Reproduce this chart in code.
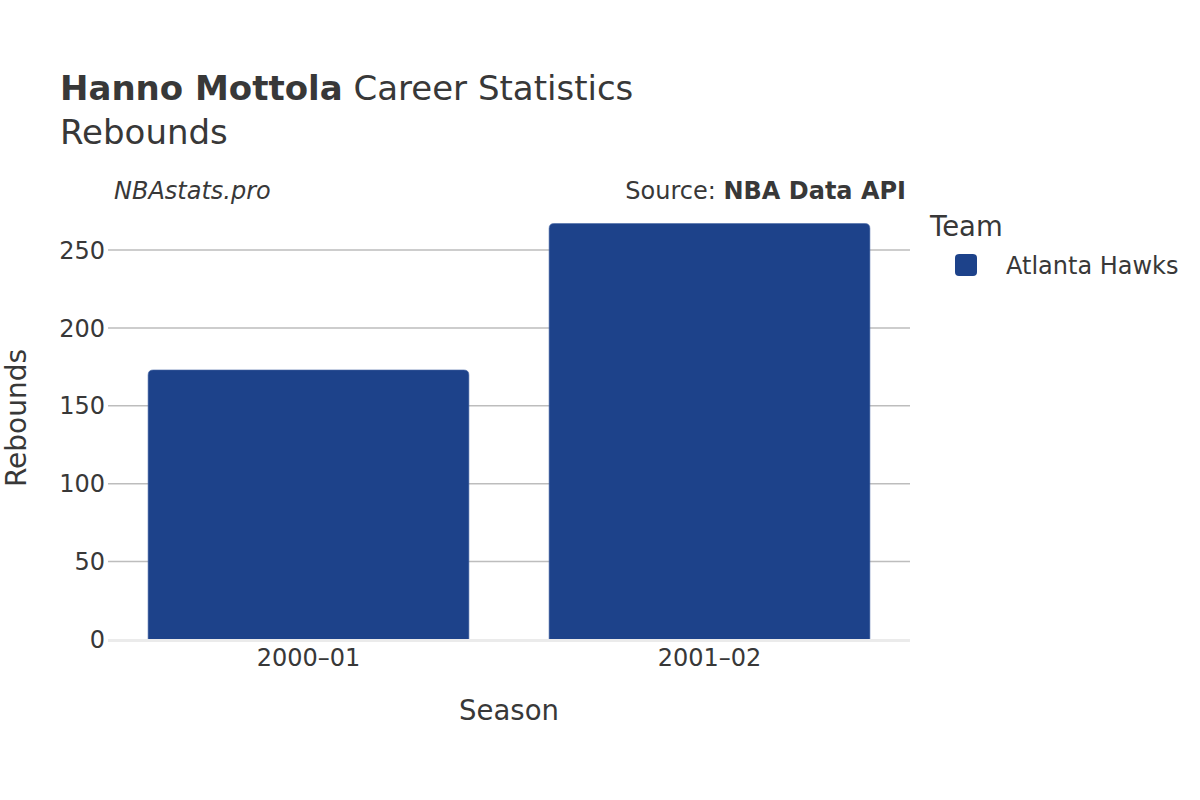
<!DOCTYPE html>
<html>
<head>
<meta charset="utf-8">
<script src="https://cdn.jsdelivr.net/npm/d3@7"></script>
<style>
  body { margin: 0; background: #fff; }
  text { font-family: "DejaVu Sans", sans-serif; fill: #383838; }
</style>
</head>
<body>
<div id="chart"></div>
<script>
// Chart data
const seasons = ["2000–01", "2001–02"];
const rebounds = [173, 267];
const teams = ["Atlanta Hawks"];
const teamColors = ["#1d428a"];
const yTicks = [0, 50, 100, 150, 200, 250];

const width = 1200;
const height = 800;
const margin = { top: 211, right: 290, bottom: 160, left: 108 };

const svg = d3
  .select("#chart")
  .append("svg")
  .attr("width", width)
  .attr("height", height);

const x = d3
  .scaleBand()
  .domain(seasons)
  .range([margin.left, width - margin.right])
  .paddingInner(0.2)
  .paddingOuter(0.1);

// 0 at y=639.5, 250 at y=250
const y = d3
  .scaleLinear()
  .domain([0, 250])
  .range([639.5, 250]);

// Grid lines
const grid = svg.append("g").attr("class", "grid");
grid
  .selectAll("line")
  .data(yTicks.filter((d) => d > 0))
  .enter()
  .append("line")
  .attr("x1", margin.left)
  .attr("x2", width - margin.right)
  .attr("y1", (d) => y(d))
  .attr("y2", (d) => y(d))
  .attr("stroke", "#bdbdbd")
  .attr("stroke-width", 1.5);

// Y tick labels
svg
  .append("g")
  .selectAll("text")
  .data(yTicks)
  .enter()
  .append("text")
  .attr("x", margin.left - 3)
  .attr("y", (d) => y(d))
  .attr("dy", "0.36em")
  .attr("text-anchor", "end")
  .style("font-size", "24px")
  .text((d) => d);

// Bars, rounded top corners only
function barPath(x0, y0, w, h, r) {
  return `M${x0},${y0 + h}V${y0 + r}Q${x0},${y0} ${x0 + r},${y0}` +
    `H${x0 + w - r}Q${x0 + w},${y0} ${x0 + w},${y0 + r}V${y0 + h}Z`;
}

svg
  .append("g")
  .selectAll("path")
  .data(rebounds)
  .enter()
  .append("path")
  .attr("d", (d, i) =>
    barPath(x(seasons[i]), y(d), x.bandwidth(), y(0) - y(d), 5)
  )
  .attr("fill", teamColors[0])
  .attr("stroke", "#4a6aa8")
  .attr("stroke-width", 0.6);

// Zero line
svg
  .append("line")
  .attr("x1", margin.left)
  .attr("x2", width - margin.right)
  .attr("y1", y(0) + 1)
  .attr("y2", y(0) + 1)
  .attr("stroke", "#ebebeb")
  .attr("stroke-width", 3);

// X tick labels
svg
  .append("g")
  .selectAll("text")
  .data(seasons)
  .enter()
  .append("text")
  .attr("x", (d) => x(d) + x.bandwidth() / 2)
  .attr("y", 666)
  .attr("text-anchor", "middle")
  .style("font-size", "24px")
  .text((d) => d);

// Axis titles
svg
  .append("text")
  .attr("x", (margin.left + width - margin.right) / 2)
  .attr("y", 720)
  .attr("text-anchor", "middle")
  .style("font-size", "27.5px")
  .text("Season");

svg
  .append("text")
  .attr("transform", "translate(26,418) rotate(-90)")
  .attr("text-anchor", "middle")
  .style("font-size", "28px")
  .text("Rebounds");

// Title
const title = svg
  .append("text")
  .attr("x", 60)
  .attr("y", 100)
  .style("font-size", "34px");
title.append("tspan").style("font-weight", "bold").text("Hanno Mottola");
title.append("tspan").text(" Career Statistics");

svg
  .append("text")
  .attr("x", 60)
  .attr("y", 144)
  .style("font-size", "34px")
  .text("Rebounds");

// Watermark and source
svg
  .append("text")
  .attr("x", 114)
  .attr("y", 199)
  .style("font-size", "24px")
  .style("font-style", "italic")
  .text("NBAstats.pro");

const source = svg
  .append("text")
  .attr("x", 906)
  .attr("y", 199)
  .attr("text-anchor", "end")
  .style("font-size", "24px");
source.append("tspan").text("Source: ");
source.append("tspan").style("font-weight", "bold").text("NBA Data API");

// Legend
svg
  .append("text")
  .attr("x", 930)
  .attr("y", 236)
  .style("font-size", "27.5px")
  .text("Team");

const legendItem = svg
  .append("g")
  .selectAll("g")
  .data(teams)
  .enter()
  .append("g")
  .attr("transform", (d, i) => `translate(955,${254 + i * 36})`);

legendItem
  .append("rect")
  .attr("width", 22)
  .attr("height", 22)
  .attr("rx", 4)
  .attr("fill", (d, i) => teamColors[i]);

legendItem
  .append("text")
  .attr("x", 51)
  .attr("y", 11)
  .attr("dy", "0.36em")
  .style("font-size", "24px")
  .text((d) => d);
</script>
</body>
</html>
